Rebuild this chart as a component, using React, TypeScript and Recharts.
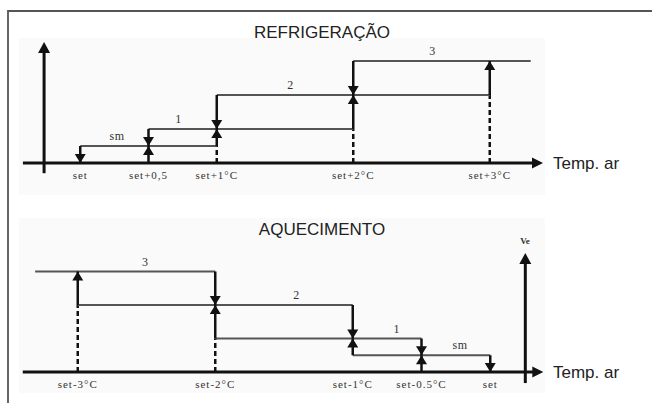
import { ComposedChart, XAxis, YAxis, ReferenceLine, ReferenceDot } from 'recharts'

// Refrigeração (temperature relative to set, °C)
const coolTicks = [0, 0.5, 1, 2, 3]
const coolTickLabels = ['set', 'set+0,5', 'set+1°C', 'set+2°C', 'set+3°C']
const coolLevels = [0.5, 1, 2, 3]
const coolStepStart = [0, 0.5, 1, 2]
const coolStepEnd = [1, 2, 3, 3.3]
const coolStepNames = ['sm', '1', '2', '3']
const coolNameAt = [0.27, 0.72, 1.54, 2.58]
// [x, from level, to level]
const coolOn = [[0.5, 0, 0.5], [1, 0.5, 1], [2, 1, 2], [3, 2, 3]]
const coolOff = [[0, 0.5, 0], [0.5, 1, 0.5], [1, 2, 1], [2, 3, 2]]
const coolDashed = [[1, 0, 0.5], [2, 0, 1], [3, 0, 2]]

// Aquecimento
const heatTicks = [-3, -2, -1, -0.5, 0]
const heatTickLabels = ['set-3°C', 'set-2°C', 'set-1°C', 'set-0.5°C', 'set']
const heatLevels = [3, 2, 1, 0.5]
const heatStepStart = [-3.31, -3, -2, -1]
const heatStepEnd = [-2, -1, -0.5, 0]
const heatStepNames = ['3', '2', '1', 'sm']
const heatNameAt = [-2.51, -1.41, -0.68, -0.22]
const heatOn = [[-3, 2, 3], [-2, 1, 2], [-1, 0.5, 1], [-0.5, 0, 0.5]]
const heatOff = [[-2, 3, 2], [-1, 2, 1], [-0.5, 1, 0.5], [0, 0.5, 0]]
const heatDashed = [[-3, 0, 2], [-2, 0, 1]]

const INK = '#111'

const head = (dir: 'up' | 'down' | 'right', w = 5.5, h = 9) => (p: any) => {
  const { cx, cy } = p
  let d = ''
  if (dir === 'up') d = `M${cx},${cy} L${cx - w},${cy + h} L${cx + w},${cy + h} Z`
  else if (dir === 'down') d = `M${cx},${cy} L${cx - w},${cy - h} L${cx + w},${cy - h} Z`
  else d = `M${cx},${cy} L${cx - h},${cy - w} L${cx - h},${cy + w} Z`
  return <path d={d} fill={INK} />
}

const nameShape = (text: string) => (p: any) => (
  <text x={p.cx} y={p.cy - 6} textAnchor="middle" fontFamily="Liberation Serif" fontSize={12}
    letterSpacing={0.5} fill="#333">
    {text}
  </text>
)

interface PanelProps {
  height: number
  margin: { top: number; right: number; bottom: number; left: number }
  xDomain: [number, number]
  ticks: number[]
  tickLabels: string[]
  levels: number[]
  stepStart: number[]
  stepEnd: number[]
  names: string[]
  nameAt: number[]
  on: number[][]
  off: number[][]
  dashed: number[][]
  axisFrom: number
  axisTo: number
  vAxisX: number
  vAxisTop: number
  vAxisBottom: number
}

function Panel(props: PanelProps) {
  const { ticks, tickLabels } = props
  return (
    <ComposedChart width={652} height={props.height} margin={props.margin}>
      <XAxis
        type="number"
        dataKey="x"
        domain={props.xDomain}
        allowDataOverflow
        ticks={ticks}
        interval={0}
        tickFormatter={(v: number) => tickLabels[ticks.indexOf(v)] ?? ''}
        axisLine={false}
        tickLine={false}
        tick={{ fontSize: 11, fontFamily: 'Liberation Serif', fill: '#333', letterSpacing: 1 }}
      />
      <YAxis type="number" hide domain={[0, 4]} allowDataOverflow />

      {props.dashed.map(([x, a, b], i) => (
        <ReferenceLine key={`d${i}`} ifOverflow="visible" segment={[{ x, y: a }, { x, y: b }]}
          stroke={INK} strokeWidth={2.5} strokeDasharray="5 3" />
      ))}

      {props.levels.map((lv, i) => (
        <ReferenceLine key={`s${i}`} ifOverflow="visible"
          segment={[{ x: props.stepStart[i], y: lv }, { x: props.stepEnd[i], y: lv }]}
          stroke="#555" strokeWidth={2} />
      ))}

      {[...props.on, ...props.off].map(([x, a, b], i) => (
        <ReferenceLine key={`a${i}`} ifOverflow="visible" segment={[{ x, y: a }, { x, y: b }]}
          stroke={INK} strokeWidth={2.5} />
      ))}
      {props.on.map(([x, , b], i) => (
        <ReferenceDot key={`hu${i}`} x={x} y={b} ifOverflow="visible" shape={head('up')} />
      ))}
      {props.off.map(([x, , b], i) => (
        <ReferenceDot key={`hd${i}`} x={x} y={b} ifOverflow="visible" shape={head('down')} />
      ))}

      {props.names.map((n, i) => (
        <ReferenceDot key={`n${i}`} x={props.nameAt[i]} y={props.levels[i]} ifOverflow="visible" shape={nameShape(n)} />
      ))}

      {/* axes */}
      <ReferenceLine ifOverflow="visible" segment={[{ x: props.axisFrom, y: 0 }, { x: props.axisTo - 0.05, y: 0 }]}
        stroke={INK} strokeWidth={3} />
      <ReferenceDot x={props.axisTo} y={0} ifOverflow="visible" shape={head('right', 5.5, 11)} />
      <ReferenceLine ifOverflow="visible"
        segment={[{ x: props.vAxisX, y: props.vAxisBottom }, { x: props.vAxisX, y: props.vAxisTop - 0.2 }]}
        stroke={INK} strokeWidth={3} />
      <ReferenceDot x={props.vAxisX} y={props.vAxisTop} ifOverflow="visible" shape={head('up', 6, 11)} />
    </ComposedChart>
  )
}

const titleStyle: React.CSSProperties = {
  position: 'absolute', left: 0, width: 644, textAlign: 'center',
  fontFamily: 'Liberation Sans, Arial, sans-serif', fontSize: 17, color: '#222', lineHeight: '20px',
}
const sideStyle: React.CSSProperties = {
  position: 'absolute', left: 553, fontFamily: 'Liberation Sans, Arial, sans-serif',
  fontSize: 17, color: '#222', lineHeight: '20px',
}

export default function App() {
  return (
    <div style={{ position: 'absolute', left: 0, top: 0, width: 652, height: 403, background: '#fff', overflow: 'hidden' }}>
      <div style={{ position: 'absolute', left: 19, top: 38, width: 526, height: 157, background: '#fafafa' }} />
      <div style={{ position: 'absolute', left: 19, top: 218, width: 526, height: 175, background: '#fafafa' }} />
      <div style={{ position: 'absolute', left: 7, top: 10, width: 700, height: 500, borderLeft: '2px solid #666', borderTop: '2px solid #555' }} />

      <div style={{ position: 'absolute', left: 0, top: 0 }}>
        <Panel
          height={200}
          margin={{ top: 27, right: 94, bottom: 7, left: 12 }}
          xDomain={[-0.5, 3.5]}
          ticks={coolTicks}
          tickLabels={coolTickLabels}
          levels={coolLevels}
          stepStart={coolStepStart}
          stepEnd={coolStepEnd}
          names={coolStepNames}
          nameAt={coolNameAt}
          on={coolOn}
          off={coolOff}
          dashed={coolDashed}
          axisFrom={-0.42}
          axisTo={3.39}
          vAxisX={-0.265}
          vAxisTop={3.56}
          vAxisBottom={-0.3}
        />
      </div>
      <div style={{ position: 'absolute', left: 0, top: 200 }}>
        <Panel
          height={203}
          margin={{ top: 38, right: 93, bottom: 1, left: 9 }}
          xDomain={[-3.5, 0.5]}
          ticks={heatTicks}
          tickLabels={heatTickLabels}
          levels={heatLevels}
          stepStart={heatStepStart}
          stepEnd={heatStepEnd}
          names={heatStepNames}
          nameAt={heatNameAt}
          on={heatOn}
          off={heatOff}
          dashed={heatDashed}
          axisFrom={-3.4}
          axisTo={0.386}
          vAxisX={0.255}
          vAxisTop={3.55}
          vAxisBottom={-0.33}
        />
      </div>

      <div style={{ ...titleStyle, top: 23 }}>REFRIGERAÇÃO</div>
      <div style={{ ...titleStyle, top: 220 }}>AQUECIMENTO</div>
      <div style={{ ...sideStyle, top: 154 }}>Temp. ar</div>
      <div style={{ ...sideStyle, top: 363 }}>Temp. ar</div>
      <div style={{ position: 'absolute', left: 516, top: 236, width: 18, textAlign: 'center', fontFamily: 'Liberation Serif', fontSize: 9, fontWeight: 'bold', color: '#333' }}>Ve</div>
    </div>
  )
}
